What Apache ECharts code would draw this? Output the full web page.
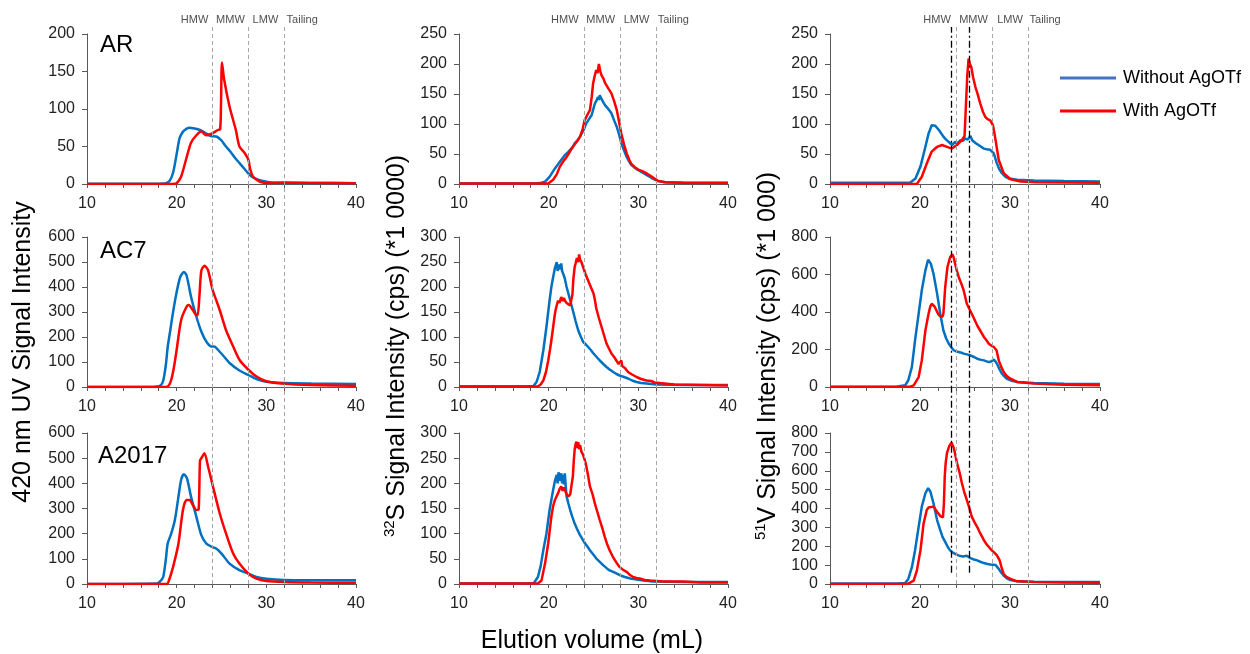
<!DOCTYPE html>
<html>
<head>
<meta charset="utf-8">
<script src="https://cdn.jsdelivr.net/npm/echarts@6/dist/echarts.min.js"></script>
<style>html,body{margin:0;padding:0;background:#fff;}#c{width:1250px;height:654px;}</style>
</head>
<body>
<div id="c"></div>
<script>
// ---------- DATA (elution volume mL, signal) ----------
const seriesNames = ['Without AgOTf', 'With AgOTf'];
const sampleNames = ['AR', 'AC7', 'A2017'];
const zoneNames = ['HMW', 'MMW', 'LMW', 'Tailing'];
const zoneCenters = [[22, 26, 29.9, 34], [21.8, 25.8, 29.8, 33.9], [21.9, 25.95, 30, 33.9]];
const zoneBounds = [24, 28, 32];
const dashDotLines = [23.5, 25.5];
const yMaxes = [[200, 250, 250], [600, 300, 800], [600, 300, 800]];
const yIntervals = [[50, 50, 50], [100, 50, 200], [100, 50, 100]];

// 420 nm UV
const AR_UV_without = [[10,0.5],[18,0.5],[18.8,1],[19.2,4],[19.6,15],[20,40],[20.3,60],[20.6,68],[20.9,72],[21.4,75],[22,74],[22.6,72],[23.2,68],[23.8,64],[24.5,63],[25,58],[25.5,50],[26,43],[26.5,35],[27,28],[27.5,21],[28,14],[28.5,9],[29,6],[29.6,4],[30.5,2],[32,1.5],[35,1.5],[40,1]];
const AR_UV_with = [[10,0],[19.6,0],[20,1],[20.5,10],[21.1,35],[21.6,55],[22.2,65],[22.75,70],[23.3,65],[23.9,67],[24.6,72],[24.85,73],[24.95,110],[25.05,162],[25.3,139],[25.9,103],[26.6,72],[27,50],[27.6,41],[28,32],[28.2,20],[28.5,10],[29,5],[29.3,3],[30,1.5],[32,2],[35,1.5],[40,1]];
const AC7_UV_without = [[10,0],[17.5,1],[18.2,6],[18.5,25],[18.8,90],[19.0,160],[19.3,230],[19.6,300],[20.0,380],[20.4,440],[20.8,460],[21.1,447],[21.6,361],[22.2,281],[22.75,222],[23.3,182],[23.9,162],[24.2,162],[24.6,149],[25.2,125],[25.9,96],[27,66],[28,48],[28.9,32],[30,21],[32,16],[35,14],[40,12]];
const AC7_UV_with = [[10,0],[18.8,0],[19.1,5],[19.4,29],[19.7,80],[20,149],[20.5,268],[21.1,321],[21.35,328],[21.8,308],[22.2,288],[22.35,288],[22.55,370],[22.75,465],[23.1,485],[23.5,467],[24,390],[24.8,308],[25.5,228],[26.3,162],[27,109],[28,69],[28.9,42],[30,23],[32,13],[35,8],[40,5]];
const A2017_UV_without = [[10,0],[17.8,2],[18.1,8],[18.5,28],[18.8,100],[19.0,161],[19.4,201],[19.8,254],[20.2,347],[20.5,414],[20.8,436],[21.15,420],[21.6,347],[22.2,267],[22.75,194],[23.3,161],[23.9,148],[24.4,141],[25,121],[25.9,81],[27,55],[28,41],[28.9,28],[30,21],[32,16],[35,15],[40,15]];
const A2017_UV_with = [[10,0],[18.9,0],[19.2,21],[19.6,68],[20.2,161],[20.7,294],[21.1,334],[21.45,334],[21.8,314],[22.2,294],[22.45,296],[22.6,490],[22.75,500],[23.1,520],[23.5,467],[24.05,387],[24.8,281],[25.5,201],[26.3,121],[27,81],[28,41],[28.9,21],[30,12],[32,8],[35,6],[40,5]];

// 32S ICP-MS (*1 0000)
const AR_S_without = [[10,1],[18.5,1],[19.2,2],[19.6,4],[20.1,12],[20.7,26],[21.25,37],[21.5,42],[21.8,48],[22.1,52],[22.4,57],[22.7,62],[22.9,68],[23.2,72],[23.5,79],[23.9,90],[24.2,101],[24.5,108],[24.8,115],[25.0,126],[25.15,134],[25.3,138],[25.5,145],[25.6,140],[25.7,148],[25.85,143],[26.0,140],[26.1,136],[26.3,131],[26.45,129],[26.6,126],[26.8,122],[27,118],[27.3,106],[27.6,95],[27.9,80],[28.1,68],[28.4,56],[28.7,45],[29.0,37],[29.2,32],[29.6,27],[30,23],[30.5,19],[30.9,15],[31.3,12],[31.6,9],[32.2,5],[33,3],[35,2],[40,2]];
const AR_S_with = [[10,1],[19.5,1],[19.95,1],[20.5,7],[20.9,16],[21.25,29],[21.6,37],[22,45],[22.4,55],[22.7,62],[23.1,70],[23.5,79],[23.8,92],[24,106],[24.3,115],[24.6,123],[24.8,145],[24.95,167],[25.1,178],[25.3,190],[25.45,185],[25.6,200],[25.75,188],[25.9,181],[26.1,176],[26.3,168],[26.45,165],[26.7,158],[27,151],[27.3,138],[27.6,123],[27.9,100],[28.1,84],[28.4,66],[28.7,51],[29.0,40],[29.2,34],[29.6,28],[30,24],[30.5,21],[30.9,18],[31.3,14],[31.6,11],[32.2,5],[33,3],[35,2],[40,1.5]];
const AC7_S_without = [[10,1],[17.5,1],[18.3,2],[18.65,10],[19,30],[19.4,73],[19.75,120],[20.1,173],[20.3,200],[20.5,220],[20.7,238],[20.9,250],[21.0,232],[21.1,245],[21.25,235],[21.4,247],[21.5,232],[21.65,225],[21.8,217],[22.0,200],[22.2,187],[22.45,170],[22.7,153],[23,132],[23.3,113],[23.6,100],[23.85,90],[24.1,86],[24.4,80],[24.7,74],[25,67],[25.35,60],[25.7,53],[26.1,46],[26.45,40],[26.8,35],[27.2,30],[27.55,26],[27.9,23],[28.4,20],[28.85,17],[29.3,13],[29.8,10],[30.3,8],[30.9,7],[32,5],[35,4],[40,4]];
const AC7_S_with = [[10,1],[18.4,1],[18.8,1],[19.1,5],[19.4,13],[19.7,30],[19.95,53],[20.15,75],[20.3,93],[20.5,120],[20.7,147],[20.85,160],[21.05,173],[21.2,168],[21.4,180],[21.55,172],[21.7,178],[21.8,173],[22.0,168],[22.2,170],[22.4,163],[22.55,160],[22.65,185],[22.75,215],[22.9,240],[23.0,247],[23.15,258],[23.3,250],[23.4,265],[23.5,255],[23.65,250],[23.8,242],[23.9,237],[24.1,226],[24.4,213],[24.7,200],[25.0,187],[25.15,175],[25.3,158],[25.6,138],[25.9,120],[26.2,102],[26.45,87],[26.75,76],[27,67],[27.3,60],[27.55,53],[27.8,46],[27.95,43],[28.1,53],[28.2,42],[28.5,38],[28.85,30],[29.3,25],[29.8,20],[30.3,16],[30.9,13],[31.45,12],[31.6,14],[31.8,9],[32,7],[34,5],[40,3]];
const A2017_S_without = [[10,1],[18,1],[18.35,2],[18.8,14],[19.1,35],[19.4,67],[19.75,100],[20.1,147],[20.5,187],[20.7,205],[20.9,217],[21.0,200],[21.1,222],[21.25,205],[21.4,220],[21.5,200],[21.6,217],[21.7,198],[21.8,220],[21.9,195],[22,174],[22.2,160],[22.4,147],[22.65,133],[22.9,120],[23.2,108],[23.5,97],[23.8,88],[24.05,81],[24.3,75],[24.6,67],[25,58],[25.3,51],[25.7,44],[26.1,37],[26.5,31],[26.8,27],[27.2,24],[27.55,21],[28,17],[28.5,14],[29.1,11],[29.8,9],[30.6,7],[31.6,5],[35,4],[40,4]];
const A2017_S_with = [[10,1],[18.5,1],[18.8,1],[19.2,7],[19.6,41],[19.95,81],[20.3,134],[20.5,155],[20.7,167],[20.9,175],[21.05,180],[21.2,188],[21.4,194],[21.55,185],[21.7,192],[21.8,187],[22,178],[22.2,174],[22.4,178],[22.55,177],[22.7,214],[22.8,245],[22.9,267],[23.0,278],[23.1,283],[23.2,270],[23.3,282],[23.4,268],[23.5,276],[23.65,263],[23.8,258],[23.9,253],[24.05,245],[24.2,234],[24.4,215],[24.6,194],[24.9,178],[25.15,160],[25.4,145],[25.7,127],[26,110],[26.25,94],[26.5,80],[26.8,67],[27.1,56],[27.4,47],[27.65,40],[27.9,34],[28.3,28],[28.7,24],[29,19],[29.4,14],[29.8,12],[30.15,11],[30.7,8],[31.3,7],[32.8,5],[34.6,5],[34.8,8],[35,5],[37,3],[40,3]];

// 51V ICP-MS (*1 000)
const AR_V_without = [[10,2],[18.5,2],[18.9,2],[19.5,9],[20.05,29],[20.6,62],[20.95,84],[21.3,98],[21.5,101],[21.7,97],[21.9,95],[22.1,90],[22.25,87],[22.6,79],[22.9,74],[23.2,70],[23.55,65],[23.9,70],[24.2,68],[24.5,73],[24.8,72],[25.0,76],[25.3,74],[25.6,80],[25.8,73],[25.95,70],[26.2,68],[26.5,65],[26.8,62],[27.1,59],[27.4,58],[27.8,57],[28.2,51],[28.55,34],[28.8,25],[29.1,18],[29.5,12],[29.9,9],[30.8,7],[32.65,6],[36,5],[40,4]];
const AR_V_with = [[10,0],[19.65,0],[20.2,12],[20.75,34],[21.3,54],[21.9,62],[22.45,65],[23,62],[23.55,59],[24.1,65],[24.65,73],[24.95,80],[25.1,130],[25.25,180],[25.4,209],[25.55,200],[25.7,195],[25.9,178],[26.15,162],[26.4,150],[26.7,134],[27,120],[27.25,112],[27.5,108],[27.8,106],[28.1,98],[28.3,82],[28.4,73],[28.75,40],[29.3,18],[30.05,8],[31.2,4],[33,3],[40,2]];
const AC7_V_without = [[10,2],[17.5,3],[18.35,9],[18.7,36],[19.1,107],[19.45,249],[19.85,391],[20.2,516],[20.6,622],[20.9,679],[21.05,672],[21.2,658],[21.5,604],[21.9,498],[22.25,391],[22.6,302],[22.9,260],[23.2,231],[23.5,210],[23.75,196],[24.0,190],[24.3,187],[24.6,183],[24.85,178],[25.2,174],[25.6,169],[26,160],[26.35,151],[26.7,146],[27.1,142],[27.4,137],[27.65,133],[27.9,136],[28.05,145],[28.2,146],[28.4,135],[28.55,124],[28.8,98],[29.1,71],[29.4,55],[29.65,44],[30.1,35],[30.8,27],[32.65,21],[36,18],[40,16]];
const AC7_V_with = [[10,0],[18.5,1],[18.9,2],[19.3,9],[19.85,53],[20.2,142],[20.6,302],[20.95,391],[21.15,430],[21.3,444],[21.45,440],[21.65,427],[22,391],[22.2,378],[22.4,373],[22.5,375],[22.6,391],[22.7,460],[22.8,533],[23.05,640],[23.35,693],[23.6,708],[23.75,690],[23.9,658],[24.1,620],[24.3,587],[24.6,550],[24.85,516],[25.2,444],[25.5,415],[25.75,391],[26.05,360],[26.35,329],[26.7,300],[27.1,267],[27.4,248],[27.65,231],[27.9,222],[28.2,213],[28.4,210],[28.5,196],[28.75,142],[29,110],[29.3,80],[29.65,58],[30.05,44],[30.8,27],[32.65,18],[36,12],[40,9]];
const A2017_V_without = [[10,2],[17.5,3],[18.35,5],[18.7,27],[19.1,89],[19.45,178],[19.85,303],[20.2,410],[20.6,481],[20.9,508],[21.15,490],[21.5,428],[21.9,339],[22.25,285],[22.5,250],[22.8,223],[23.1,195],[23.35,178],[23.6,168],[23.9,160],[24.2,153],[24.5,148],[24.8,146],[25.0,143],[25.2,150],[25.35,142],[25.6,137],[26,130],[26.35,125],[26.7,118],[27.1,111],[27.5,106],[27.8,103],[28.1,102],[28.4,101],[28.6,92],[28.75,80],[29,62],[29.3,45],[29.65,30],[30.05,21],[30.8,14],[32.65,12],[36,11],[40,11]];
const A2017_V_with = [[10,0],[18.3,1],[18.7,2],[19.3,18],[19.65,71],[20.05,178],[20.4,321],[20.75,392],[20.95,405],[21.15,410],[21.5,410],[21.9,383],[22.25,360],[22.55,353],[22.65,420],[22.75,570],[22.85,640],[23.0,695],[23.1,690],[23.25,731],[23.4,740],[23.5,749],[23.6,742],[23.75,722],[23.9,690],[24.1,642],[24.4,590],[24.65,535],[24.9,490],[25.2,446],[25.5,400],[25.75,357],[26.05,328],[26.35,303],[26.7,268],[27.1,232],[27.4,210],[27.65,196],[27.9,182],[28.2,169],[28.4,160],[28.55,152],[28.7,150],[28.85,125],[29.05,90],[29.3,53],[29.6,38],[30.05,27],[30.8,14],[32.65,10],[36,8],[40,7]];

const panelData = [
  [[AR_UV_without, AR_UV_with], [AR_S_without, AR_S_with], [AR_V_without, AR_V_with]],
  [[AC7_UV_without, AC7_UV_with], [AC7_S_without, AC7_S_with], [AC7_V_without, AC7_V_with]],
  [[A2017_UV_without, A2017_UV_with], [A2017_S_without, A2017_S_with], [A2017_V_without, A2017_V_with]]
];

// ---------- LAYOUT ----------
const FONT = "'Liberation Sans', Arial, sans-serif";
const colLeft = [87, 459, 830];
const colWidth = [269, 269, 270];
const rowTop = [34, 237, 433];
const rowHeight = [150, 150, 151];
const overlayTop = 27, overlayBottomPx = 584;
const seriesColors = ['#0070C0', '#FF0000'];
const legendColors = ['#4472C4', '#FF0000'];
const axisColor = '#595959';
const labelColor = '#222';

const grids = [], xAxes = [], yAxes = [], series = [];
let gi = 0;
for (let r = 0; r < 3; r++) {
  for (let c = 0; c < 3; c++) {
    grids.push({left: colLeft[c], width: colWidth[c], top: rowTop[r], height: rowHeight[r]});
    xAxes.push({
      type: 'value', gridIndex: gi, min: 10, max: 40, interval: 10,
      axisLine: {show: true, onZero: false, lineStyle: {color: axisColor, width: 1}},
      axisTick: {show: true, length: 4, lineStyle: {color: axisColor}},
      minorTick: {show: true, splitNumber: 5, length: 4, lineStyle: {color: axisColor}},
      splitLine: {show: false}, minorSplitLine: {show: false},
      axisLabel: {fontSize: 16, color: labelColor, fontFamily: FONT, margin: 12}
    });
    yAxes.push({
      type: 'value', gridIndex: gi, min: 0, max: yMaxes[r][c], interval: yIntervals[r][c],
      axisLine: {show: true, lineStyle: {color: axisColor, width: 1}},
      axisTick: {show: true, length: 5, lineStyle: {color: axisColor}},
      splitLine: {show: false},
      axisLabel: {fontSize: 16, color: labelColor, fontFamily: FONT, margin: 12}
    });
    for (let s = 0; s < 2; s++) {
      series.push({
        type: 'line', name: seriesNames[s], xAxisIndex: gi, yAxisIndex: gi,
        data: panelData[r][c][s], showSymbol: false, symbol: 'none',
        smooth: c === 0 ? 0.25 : false,
        lineStyle: {color: seriesColors[s], width: 2.5},
        itemStyle: {color: seriesColors[s]},
        z: 3 + s, animation: false
      });
    }
    gi++;
  }
}
// overlay grids for region boundaries
for (let c = 0; c < 3; c++) {
  grids.push({left: colLeft[c], width: colWidth[c], top: overlayTop, bottom: 654 - overlayBottomPx});
  xAxes.push({type: 'value', gridIndex: gi, min: 10, max: 40, show: false});
  yAxes.push({type: 'value', gridIndex: gi, min: 0, max: 1, show: false});
  const mlData = zoneBounds.map(v => ({xAxis: v}));
  if (c === 2) {
    dashDotLines.forEach(v => mlData.push([
      {coord: [v, 0.02], lineStyle: {color: '#000', type: [7, 3, 2, 3], width: 1.3}},
      {coord: [v, 1]}
    ]));
  }
  series.push({
    type: 'scatter', name: 'zones' + c, xAxisIndex: gi, yAxisIndex: gi,
    data: zoneNames.map((n, i) => ({name: n, value: [zoneCenters[c][i], 1]})),
    symbolSize: 0, silent: true, z: 1, animation: false,
    label: {show: true, position: 'top', distance: 2, formatter: p => p.name,
            fontSize: 11, color: '#222', fontFamily: FONT},
    markLine: {
      silent: true, symbol: ['none', 'none'], animation: false,
      label: {show: false},
      lineStyle: {color: '#A6A6A6', type: [4, 3], width: 1},
      data: mlData
    }
  });
  gi++;
}

const graphics = [
  {type: 'text', x: 100, y: 45, style: {text: sampleNames[0], fontSize: 24, fontFamily: FONT, fill: '#000', align: 'left', verticalAlign: 'middle'}},
  {type: 'text', x: 100, y: 251, style: {text: sampleNames[1], fontSize: 24, fontFamily: FONT, fill: '#000', align: 'left', verticalAlign: 'middle'}},
  {type: 'text', x: 98, y: 456, style: {text: sampleNames[2], fontSize: 24, fontFamily: FONT, fill: '#000', align: 'left', verticalAlign: 'middle'}},
  {type: 'text', x: 23, y: 352, rotation: Math.PI / 2,
   style: {text: '420 nm UV Signal Intensity', fontSize: 25, fontFamily: FONT, fill: '#000', align: 'center', verticalAlign: 'middle'}},
  {type: 'text', x: 397, y: 346, rotation: Math.PI / 2,
   style: {text: '{sup|32}{n|S Signal Intensity (cps) (*1 0000)}', align: 'center', verticalAlign: 'middle', fill: '#000',
     rich: {sup: {fontSize: 15, fontFamily: FONT, fill: '#000', verticalAlign: 'top', lineHeight: 20},
            n: {fontSize: 25, fontFamily: FONT, fill: '#000', lineHeight: 30}}}},
  {type: 'text', x: 768, y: 356, rotation: Math.PI / 2,
   style: {text: '{sup|51}{n|V Signal Intensity (cps) (*1 000)}', align: 'center', verticalAlign: 'middle', fill: '#000',
     rich: {sup: {fontSize: 15, fontFamily: FONT, fill: '#000', verticalAlign: 'top', lineHeight: 20},
            n: {fontSize: 25, fontFamily: FONT, fill: '#000', lineHeight: 30}}}},
  {type: 'text', x: 592, y: 641,
   style: {text: 'Elution volume (mL)', fontSize: 25, fontFamily: FONT, fill: '#000', align: 'center', verticalAlign: 'middle'}}
];

const chart = echarts.init(document.getElementById('c'), null, {renderer: 'canvas'});
chart.setOption({
  animation: false,
  backgroundColor: '#fff',
  grid: grids, xAxis: xAxes, yAxis: yAxes, series: series,
  legend: {
    orient: 'vertical', left: 1060, top: 69, padding: 0, itemWidth: 56, itemHeight: 3, itemGap: 15,
    icon: 'rect', selectedMode: false,
    textStyle: {fontSize: 18, color: '#000', fontFamily: FONT, padding: [0, 0, 0, 2]},
    data: seriesNames.map((n, i) => ({name: n, itemStyle: {color: legendColors[i]}}))
  },
  graphic: graphics
});
</script>
</body>
</html>
